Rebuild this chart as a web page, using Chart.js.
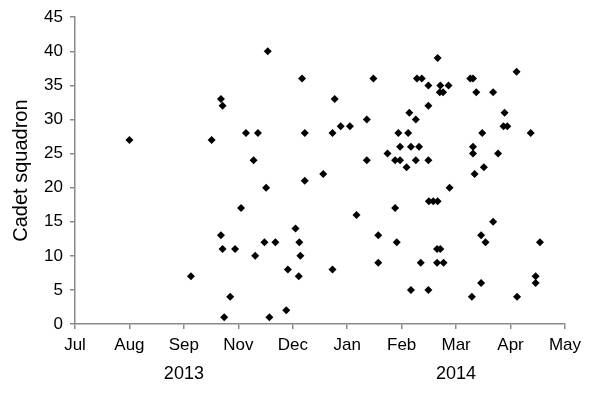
<!DOCTYPE html>
<html>
<head>
<meta charset="utf-8">
<script src="https://cdn.jsdelivr.net/npm/chart.js@4/dist/chart.umd.min.js"></script>
<style>
  html, body { margin: 0; padding: 0; background: #fff; }
</style>
</head>
<body>
<canvas id="chart" width="600" height="395"></canvas>
<script>
// month tick labels (the original skips Oct)
const monthLabels = ['Jul', 'Aug', 'Sep', 'Nov', 'Dec', 'Jan', 'Feb', 'Mar', 'Apr', 'May'];
const yearLabels = ['2013', '2014'];
const yearTicks = [2, 7];

// date of each case, in tick units (0 = Jul, 9 = May)
const caseDates = [
  1.00, 2.51, 2.68, 2.71, 2.13, 2.68, 2.71, 2.74, 2.85, 2.94,
  3.05, 3.14, 3.36, 3.28, 3.31, 3.48, 3.54, 3.51, 3.57, 3.68,
  3.88, 3.91, 4.05, 4.12, 4.14, 4.11, 4.17, 4.22, 4.22, 4.56,
  4.73, 4.73, 4.77, 4.88, 5.05, 5.17, 5.36, 5.36, 5.48, 5.57,
  5.57, 5.74, 5.88, 5.88, 5.91, 5.94, 5.97, 5.97, 6.09, 6.12,
  6.14, 6.17, 6.17, 6.26, 6.26, 6.28, 6.32, 6.35, 6.37, 6.49,
  6.49, 6.49, 6.49, 6.50, 6.58, 6.66, 6.66, 6.65, 6.71, 6.65,
  6.77, 6.71, 6.70, 6.76, 6.86, 6.88, 7.26, 7.31, 7.29, 7.31,
  7.31, 7.34, 7.37, 7.46, 7.46, 7.48, 7.51, 7.54, 7.68, 7.68,
  7.77, 7.87, 7.89, 7.94, 8.11, 8.12, 8.37, 8.46, 8.46, 8.54
];
const squadrons = [
  27, 27, 33, 32, 7, 13, 11, 1, 4, 11,
  17, 28, 28, 24, 10, 12, 40, 20, 1, 12,
  2, 8, 14, 12, 10, 7, 36, 28, 21, 22,
  28, 8, 33, 29, 29, 16, 30, 24, 36, 13,
  9, 25, 24, 17, 12, 28, 26, 24, 23, 28,
  31, 26, 5, 30, 24, 36, 26, 9, 36, 35,
  32, 24, 5, 18, 18, 18, 39, 11, 11, 9,
  9, 35, 34, 34, 35, 20, 36, 36, 4, 26,
  25, 22, 34, 13, 6, 28, 23, 12, 34, 15,
  25, 29, 31, 29, 37, 4, 28, 7, 6, 12
];

const axisColor = '#8a8a8a';
const fontFamily = '"Liberation Sans", Arial, sans-serif';

const points = caseDates.map((d, i) => ({ x: d, y: squadrons[i] }));

// draws the year line under the month ticks
const yearPlugin = {
  id: 'years',
  afterDraw(chart) {
    const ctx = chart.ctx;
    const xScale = chart.scales.x;
    ctx.save();
    ctx.font = '18px ' + fontFamily;
    ctx.fillStyle = '#000';
    ctx.textAlign = 'center';
    ctx.textBaseline = 'middle';
    yearLabels.forEach((label, i) => {
      ctx.fillText(label, xScale.getPixelForValue(yearTicks[i]), chart.chartArea.bottom + 50);
    });
    ctx.restore();
  }
};

new Chart(document.getElementById('chart'), {
  type: 'scatter',
  data: {
    datasets: [{
      data: points,
      pointStyle: 'rectRot',
      pointRadius: 4,
      pointBackgroundColor: '#000',
      pointBorderColor: '#000',
      pointBorderWidth: 0
    }]
  },
  options: {
    responsive: false,
    animation: false,
    layout: { padding: { left: 0, right: 35, top: 15, bottom: 0 } },
    plugins: {
      legend: { display: false },
      tooltip: { enabled: false }
    },
    scales: {
      x: {
        type: 'linear',
        min: 0,
        max: 9,
        afterFit(scale) { scale.height = 71; },
        border: { color: axisColor, width: 1.5 },
        grid: { drawOnChartArea: false, drawTicks: true, tickLength: 5, color: axisColor, lineWidth: 1.5 },
        ticks: {
          stepSize: 1,
          autoSkip: false,
          maxRotation: 0,
          padding: 6,
          color: '#000',
          font: { family: fontFamily, size: 17 },
          callback: v => monthLabels[v]
        }
      },
      y: {
        min: 0,
        max: 45,
        afterFit(scale) { scale.width = 75; },
        border: { color: axisColor, width: 1.5 },
        grid: { drawOnChartArea: false, drawTicks: true, tickLength: 5, color: axisColor, lineWidth: 1.5 },
        ticks: {
          stepSize: 5,
          padding: 7,
          color: '#000',
          font: { family: fontFamily, size: 17 }
        },
        title: {
          display: true,
          text: 'Cadet squadron',
          color: '#000',
          font: { family: fontFamily, size: 20 },
          padding: { top: 9, bottom: 0 }
        }
      }
    }
  },
  plugins: [yearPlugin]
});
</script>
</body>
</html>
